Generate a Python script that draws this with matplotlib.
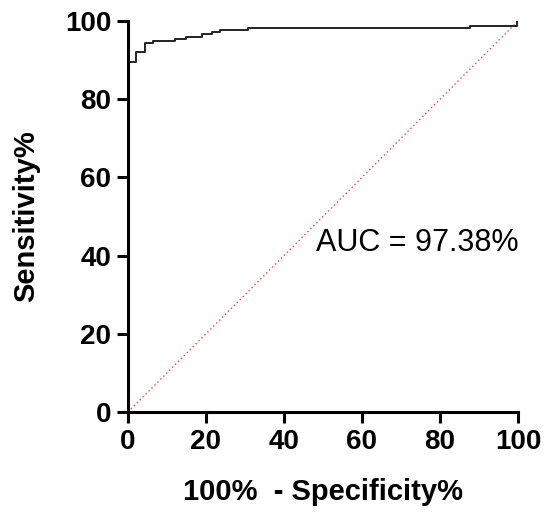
import matplotlib
matplotlib.use("Agg")
import matplotlib.pyplot as plt

fpr = [0, 0, 2.0, 2.0, 4.4, 4.4, 6.5, 6.5, 12.0, 12.0, 15.0, 15.0, 18.9, 18.9, 21.5, 21.5, 23.6, 23.6, 30.8, 30.8, 87.7, 87.7, 99.7, 99.7, 100]
sens = [0, 89.6, 89.6, 92.1, 92.1, 94.3, 94.3, 94.9, 94.9, 95.3, 95.3, 95.8, 95.8, 96.7, 96.7, 97.3, 97.3, 97.7, 97.7, 98.1, 98.1, 98.7, 98.7, 100, 100]
ref_x = [0, 100]
ref_y = [0, 100]
auc_text = "AUC = 97.38%"
ticks = [0, 20, 40, 60, 80, 100]

plt.rcParams['font.family'] = ['Liberation Sans', 'DejaVu Sans']
fig = plt.figure(figsize=(5.46, 5.16), dpi=100)
ax = fig.add_axes([0.2344, 0.2016, 0.7143, 0.7577])
ax.plot(ref_x, ref_y, color='#e8474a', linestyle=(0, (1, 2)), linewidth=1.0)
ax.plot(fpr, sens, color='#222222', linewidth=1.4)
ax.set_xlim(0, 100)
ax.set_ylim(0, 100)
ax.set_xticks(ticks)
ax.set_yticks(ticks)
for s in ['top', 'right']:
    ax.spines[s].set_visible(False)
for s in ['left', 'bottom']:
    ax.spines[s].set_linewidth(2.2)
ax.tick_params(direction='out', length=8, width=2.2, labelsize=20, pad=4)
for lbl in ax.get_xticklabels() + ax.get_yticklabels():
    lbl.set_fontweight('bold')
ax.set_xlabel("100%  - Specificity%", fontsize=21, fontweight='bold', labelpad=17)
ax.set_ylabel("Sensitivity%", fontsize=21, fontweight='bold', labelpad=18)
ax.text(48.2, 43.2, auc_text, fontsize=22, va='center', ha='left')
fig.savefig("out.png", dpi=100)
